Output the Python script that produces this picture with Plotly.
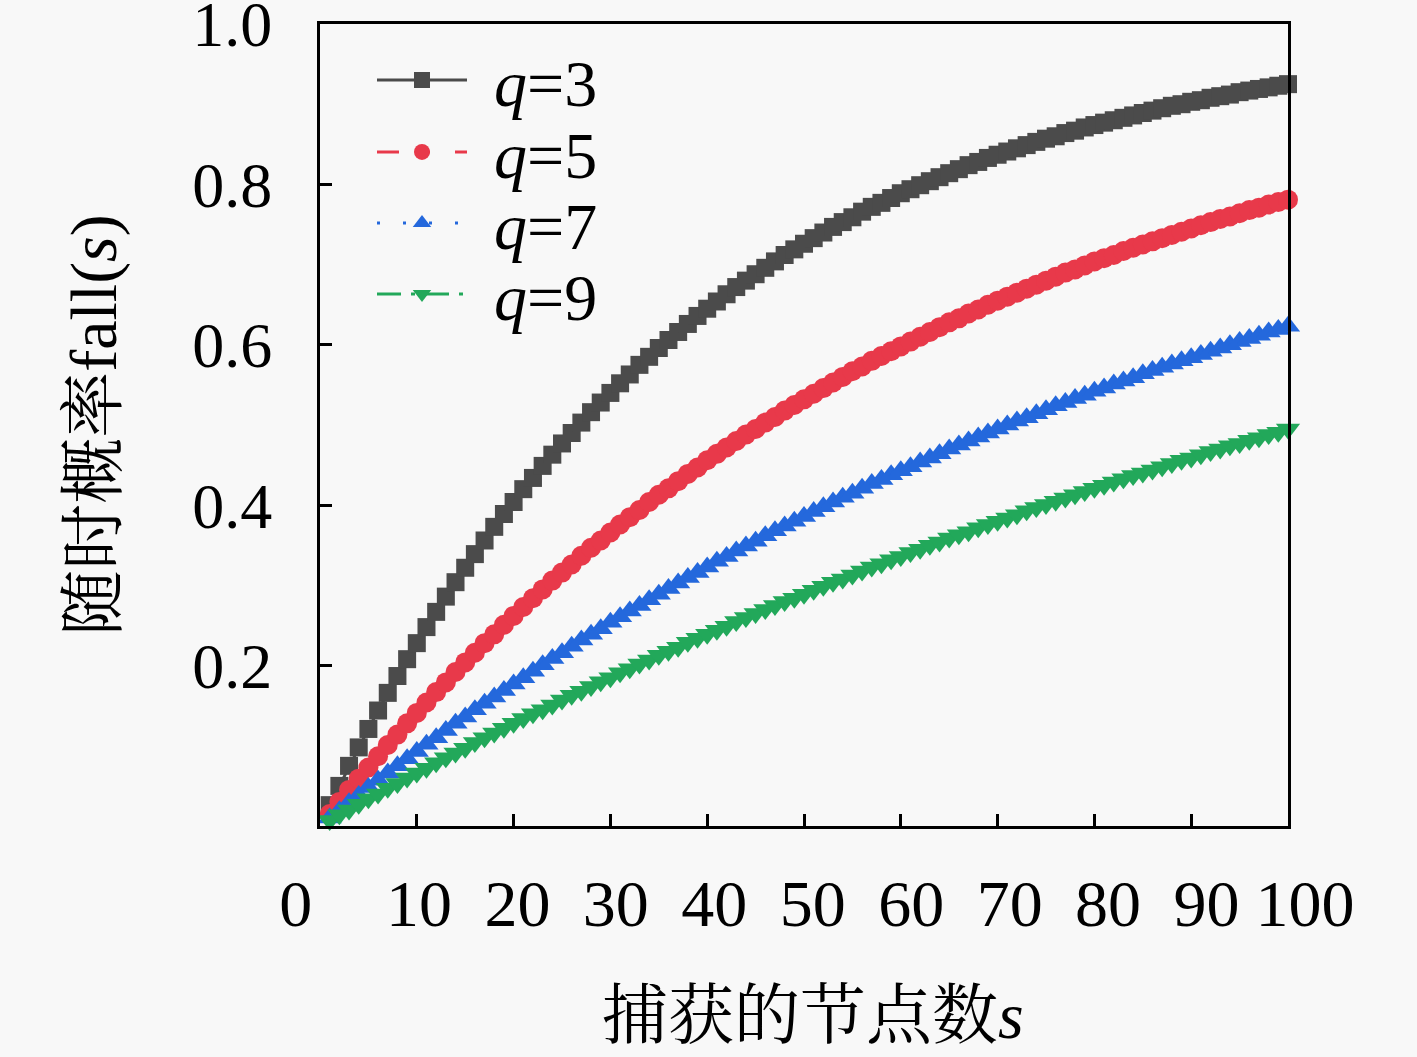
import plotly.graph_objects as go

# ---------------- data ----------------
s_values = list(range(1, 101))

fall_q3 = [0.026, 0.050, 0.075, 0.098, 0.121, 0.144, 0.166, 0.187, 0.208, 0.228,
           0.248, 0.267, 0.286, 0.304, 0.322, 0.339, 0.356, 0.373, 0.389, 0.404,
           0.420, 0.434, 0.449, 0.463, 0.477, 0.490, 0.503, 0.516, 0.528, 0.540,
           0.552, 0.563, 0.575, 0.585, 0.596, 0.606, 0.616, 0.626, 0.636, 0.645,
           0.654, 0.663, 0.672, 0.680, 0.688, 0.696, 0.704, 0.712, 0.719, 0.726,
           0.733, 0.740, 0.747, 0.753, 0.759, 0.766, 0.772, 0.777, 0.783, 0.789,
           0.794, 0.799, 0.804, 0.809, 0.814, 0.819, 0.824, 0.828, 0.833, 0.837,
           0.841, 0.845, 0.849, 0.853, 0.857, 0.860, 0.864, 0.867, 0.871, 0.874,
           0.877, 0.880, 0.883, 0.886, 0.889, 0.892, 0.895, 0.898, 0.900, 0.903,
           0.905, 0.908, 0.910, 0.912, 0.915, 0.917, 0.919, 0.921, 0.923, 0.925]

fall_q5 = [0.015, 0.030, 0.045, 0.059, 0.073, 0.087, 0.101, 0.114, 0.128, 0.141,
           0.154, 0.167, 0.179, 0.192, 0.204, 0.216, 0.228, 0.239, 0.251, 0.262,
           0.273, 0.284, 0.295, 0.306, 0.316, 0.326, 0.337, 0.347, 0.356, 0.366,
           0.376, 0.385, 0.394, 0.404, 0.413, 0.421, 0.430, 0.439, 0.447, 0.456,
           0.464, 0.472, 0.480, 0.488, 0.495, 0.503, 0.510, 0.518, 0.525, 0.532,
           0.539, 0.546, 0.553, 0.560, 0.567, 0.573, 0.580, 0.586, 0.592, 0.598,
           0.604, 0.610, 0.616, 0.622, 0.628, 0.633, 0.639, 0.644, 0.650, 0.655,
           0.660, 0.665, 0.670, 0.675, 0.680, 0.685, 0.690, 0.694, 0.699, 0.704,
           0.708, 0.712, 0.717, 0.721, 0.725, 0.729, 0.733, 0.737, 0.741, 0.745,
           0.749, 0.753, 0.757, 0.760, 0.764, 0.768, 0.771, 0.775, 0.778, 0.781]

fall_q7 = [0.010, 0.019, 0.029, 0.038, 0.048, 0.057, 0.066, 0.075, 0.084, 0.093,
           0.102, 0.110, 0.119, 0.128, 0.136, 0.145, 0.153, 0.161, 0.169, 0.177,
           0.185, 0.193, 0.201, 0.209, 0.216, 0.224, 0.232, 0.239, 0.246, 0.254,
           0.261, 0.268, 0.275, 0.282, 0.289, 0.296, 0.303, 0.310, 0.316, 0.323,
           0.330, 0.336, 0.343, 0.349, 0.355, 0.362, 0.368, 0.374, 0.380, 0.386,
           0.392, 0.398, 0.404, 0.410, 0.415, 0.421, 0.427, 0.432, 0.438, 0.443,
           0.448, 0.454, 0.459, 0.464, 0.470, 0.475, 0.480, 0.485, 0.490, 0.495,
           0.500, 0.505, 0.509, 0.514, 0.519, 0.524, 0.528, 0.533, 0.537, 0.542,
           0.546, 0.551, 0.555, 0.559, 0.564, 0.568, 0.572, 0.576, 0.580, 0.584,
           0.588, 0.592, 0.596, 0.600, 0.604, 0.608, 0.612, 0.616, 0.619, 0.623]

fall_q9 = [0.007, 0.014, 0.020, 0.027, 0.034, 0.040, 0.047, 0.053, 0.060, 0.066,
           0.072, 0.079, 0.085, 0.091, 0.097, 0.104, 0.110, 0.116, 0.122, 0.128,
           0.134, 0.140, 0.145, 0.151, 0.157, 0.163, 0.168, 0.174, 0.180, 0.185,
           0.191, 0.196, 0.202, 0.207, 0.213, 0.218, 0.223, 0.229, 0.234, 0.239,
           0.244, 0.249, 0.255, 0.260, 0.265, 0.270, 0.275, 0.280, 0.284, 0.289,
           0.294, 0.299, 0.304, 0.308, 0.313, 0.318, 0.323, 0.327, 0.332, 0.336,
           0.341, 0.345, 0.350, 0.354, 0.359, 0.363, 0.367, 0.372, 0.376, 0.380,
           0.384, 0.388, 0.393, 0.397, 0.401, 0.405, 0.409, 0.413, 0.417, 0.421,
           0.425, 0.429, 0.433, 0.437, 0.440, 0.444, 0.448, 0.452, 0.456, 0.459,
           0.463, 0.467, 0.470, 0.474, 0.477, 0.481, 0.484, 0.488, 0.491, 0.495]

series_names = ["\u2004<i>q</i>=3", "\u2004<i>q</i>=5", "\u2004<i>q</i>=7", "\u2004<i>q</i>=9"]
x_tick_vals = [0, 10, 20, 30, 40, 50, 60, 70, 80, 90, 100]
x_tick_text = ["0\u00a0\u00a0\u00a0", "10", "20", "30", "40", "50", "60", "70", "80", "90", "100"]
y_tick_vals = [0.2, 0.4, 0.6, 0.8, 1.0]
y_tick_text = ["0.2", "0.4", "0.6", "0.8", "1.0"]

# ---------------- style ----------------
colors = ["#4b4b4b", "#e8394a", "#2468dc", "#22a85a"]
symbols = ["square", "circle", "triangle-up", "triangle-down"]
sizes = [18, 20, 21, 21]
dashes = ["solid", "22px,25px,6px,25px", "3px,23px", "24px,10px,4px,10px"]
series = [fall_q3, fall_q5, fall_q7, fall_q9]

W, H = 1417, 1057
L, R, T, B = 300, 100, 24, 231
PW, PH = W - L - R, H - T - B

def fx(p):
    return (p - L) / PW

def fy(p):
    return 1 - (p - T) / PH

SERIF = "Liberation Serif, DejaVu Serif, serif"
MIXED = "Liberation Serif, Noto Serif CJK SC, Noto Sans CJK SC, serif"
BG = "#f8f8f8"

fig = go.Figure()
legend_keys = ["legend", "legend2", "legend3", "legend4"]
for i, vals in enumerate(series):
    fig.add_trace(go.Scatter(
        x=s_values, y=vals, name=series_names[i], mode="lines+markers",
        line=dict(color=colors[i], width=3, dash=dashes[i]),
        marker=dict(symbol=symbols[i], size=sizes[i], color=colors[i], line=dict(width=0)),
        cliponaxis=False, legend=legend_keys[i],
    ))

# invisible trace carrying the tick-label axis
fig.add_trace(go.Scatter(x=[None], y=[None], xaxis="x2", yaxis="y",
                         showlegend=False, hoverinfo="skip"))

axis_common = dict(showgrid=False, zeroline=False, showline=True, linecolor="black",
                   linewidth=3, mirror=True, ticks="inside", ticklen=12, tickwidth=2.5,
                   tickcolor="black", automargin=False)

legend_y = [80, 152, 223, 294]
layout_legends = {}
for i, key in enumerate(legend_keys):
    layout_legends[key] = dict(
        x=fx(372), y=fy(legend_y[i]), xanchor="left", yanchor="middle",
        bgcolor="rgba(0,0,0,0)", borderwidth=0,
        font=dict(family=SERIF, size=66, color="black"),
        itemwidth=90, itemsizing="trace",
    )

fig.update_layout(
    width=W, height=H,
    margin=dict(l=L, r=R, t=T, b=B, autoexpand=False),
    paper_bgcolor=BG, plot_bgcolor="rgba(0,0,0,0)",
    showlegend=True,
    xaxis=dict(domain=[fx(320), fx(1288)], range=[0, 100], dtick=10, tick0=0,
               showticklabels=False, anchor="y", **axis_common),
    xaxis2=dict(domain=[fx(320.5), fx(1305)], range=[0, 100], tickmode="array",
                tickvals=x_tick_vals, ticktext=x_tick_text, ticks="", showline=False,
                showgrid=False, zeroline=False, anchor="y", side="bottom",
                ticklabelstandoff=33, ticklabeloverflow="allow", automargin=False,
                tickfont=dict(family=SERIF, size=66, color="black"),
                title=dict(text="捕获的节点数<i>s</i>", standoff=52,
                           font=dict(family=MIXED, size=66, color="black"))),
    yaxis=dict(domain=[0, 1], range=[0, 1], tickmode="array", tickvals=y_tick_vals,
               ticktext=y_tick_text, anchor="x", ticklabelstandoff=32,
               ticklabeloverflow="allow",
               tickfont=dict(family=SERIF, size=64, color="black"),
               title=dict(text="随时概率fall(<i>s</i>)", standoff=55,
                          font=dict(family=MIXED, size=66, color="black")),
               **axis_common),
    **layout_legends,
)

fig.write_html("out.html", config={"displayModeBar": False},
               post_script="document.body.style.margin='0px';document.body.style.overflow='hidden';")
